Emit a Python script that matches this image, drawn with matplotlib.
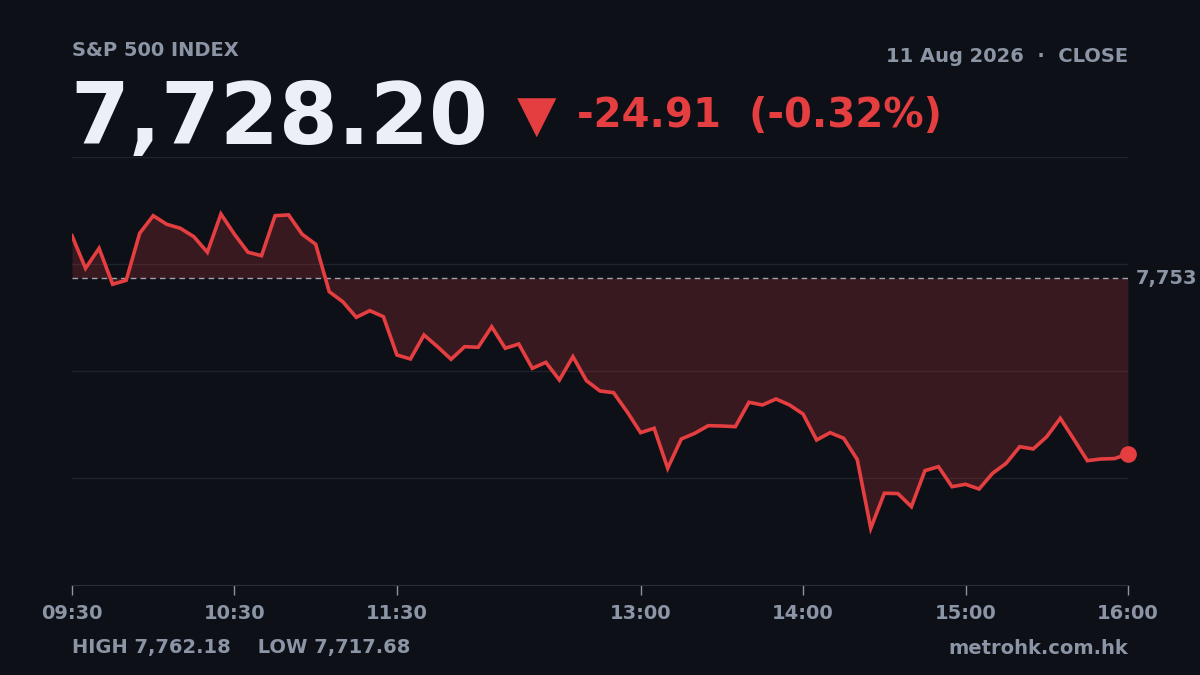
import matplotlib
matplotlib.use("Agg")
import matplotlib.pyplot as plt
import numpy as np
import pandas as pd

# Data
times = pd.date_range("2026-08-11 09:30", "2026-08-11 16:00", freq="5min")
prices = [
    7759.11, 7754.49, 7757.32, 7752.23, 7752.79, 7759.45, 7761.94, 7760.72, 7760.16, 7758.97,
    7756.76, 7762.18, 7759.31, 7756.76, 7756.28, 7761.94, 7762.05, 7759.31, 7757.89, 7751.18,
    7749.76, 7747.55, 7748.49, 7747.64, 7742.22, 7741.65, 7745.05, 7743.39, 7741.61, 7743.39,
    7743.31, 7746.22, 7743.17, 7743.77, 7740.33, 7741.18, 7738.68, 7741.98, 7738.58, 7737.12,
    7736.88, 7734.19, 7731.22, 7731.84, 7726.18, 7730.32, 7731.13, 7732.21, 7732.16, 7732.07,
    7735.52, 7735.14, 7735.99, 7735.14, 7733.86, 7730.18, 7731.22, 7730.42, 7727.42, 7717.68,
    7722.64, 7722.60, 7720.74, 7725.84, 7726.40, 7723.57, 7723.91, 7723.24, 7725.47, 7726.88,
    7729.23, 7728.91, 7730.65, 7733.25, 7730.28, 7727.25, 7727.49, 7727.55, 7728.20,
]
prev_close = 7753.11
last = 7728.20
change = -24.91
change_pct = -0.32
high = 7762.18
low = 7717.68
tick_labels = ["09:30", "10:30", "11:30", "13:00", "14:00", "15:00", "16:00"]

bg = "#0d1017"
red = "#e53e40"
grey = "#8b95a5"
white = "#eceff5"
grid = "#1e222a"

mins = (times - times[0]).total_seconds() / 60
tick_pos = [(pd.Timestamp("2026-08-11 " + t) - times[0]).total_seconds() / 60 for t in tick_labels]

fig = plt.figure(figsize=(12, 6.75), dpi=100, facecolor=bg)
ax = fig.add_axes([0.06, 90 / 675, 0.88, 428 / 675])
ax.set_facecolor(bg)

ymin, ymax = 7709.65, 7770.25
ax.set_xlim(0, 390)
ax.set_ylim(ymin, ymax)

# gridlines
for g in np.linspace(ymin, ymax, 5)[1:]:
    ax.axhline(g, color=grid, lw=1, zorder=1)

ax.fill_between(mins, prices, prev_close, color=red, alpha=0.2, lw=0, zorder=2)
ax.axhline(prev_close, color="#9ea3ad", lw=1, ls=(0, (4, 3)), zorder=3)
ax.plot(mins, prices, color=red, lw=2.6, solid_joinstyle="miter", zorder=4)
ax.plot(mins[-1], prices[-1], "o", color=red, ms=11, zorder=5, clip_on=False)

for s in ["top", "right", "left"]:
    ax.spines[s].set_visible(False)
ax.spines["bottom"].set_color("#2a2f38")
ax.set_yticks([])
ax.set_xticks(tick_pos)
ax.set_xticklabels(tick_labels)
ax.tick_params(axis="x", colors=grey, length=7, width=1, pad=7, labelsize=14)
for lbl in ax.get_xticklabels():
    lbl.set_fontweight("bold")
    lbl.set_color(grey)

ax.text(1.0075, prev_close, f"{prev_close:,.0f}", transform=ax.get_yaxis_transform(),
        color=grey, fontsize=14, fontweight="bold", va="center", ha="left")


def fx(px):
    return px / 1200


def fy(py):
    return 1 - py / 675


fig.text(fx(72), fy(51), "S&P 500 INDEX", color=grey, fontsize=14, fontweight="bold", va="center")
fig.text(fx(1128), fy(57), "11 Aug 2026  ·  CLOSE", color=grey, fontsize=14,
         fontweight="bold", va="center", ha="right")
fig.text(fx(70), fy(121), f"{last:,.2f}", color=white, fontsize=61, fontweight="bold", va="center")
fig.text(fx(537), fy(118), "▼", color=red, fontsize=37, va="center", ha="center")
fig.text(fx(577), fy(116), f"{change:,.2f}  ({change_pct:.2f}%)", color=red, fontsize=29,
         fontweight="bold", va="center")
fig.text(fx(72), fy(648), f"HIGH {high:,.2f}    LOW {low:,.2f}", color=grey, fontsize=14,
         fontweight="bold", va="center")
fig.text(fx(1128), fy(648), "metrohk.com.hk", color=grey, fontsize=14, fontweight="bold",
         va="center", ha="right")

fig.savefig("out.png", dpi=100, facecolor=bg)
